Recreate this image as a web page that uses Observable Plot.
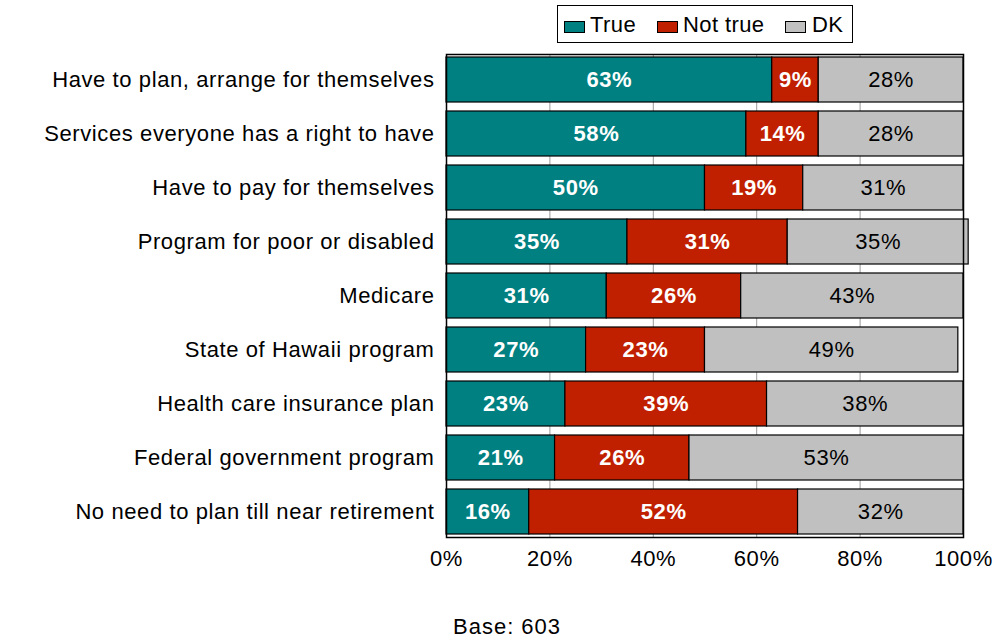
<!DOCTYPE html>
<html><head><meta charset="utf-8">
<script src="https://cdn.jsdelivr.net/npm/d3@7"></script>
<script src="https://cdn.jsdelivr.net/npm/@observablehq/plot@0.6"></script>
<style>
body{margin:0;background:#fff;font-family:"Liberation Sans",Arial,sans-serif;}
#wrap{position:relative;width:997px;height:641px;}
#legend{position:absolute;left:557px;top:5px;width:296px;height:38px;border:1.5px solid #000;box-sizing:border-box;font-size:22px;color:#000;letter-spacing:0.4px;}
#legend .sw{position:absolute;top:15px;width:21px;height:12px;border:1.5px solid #000;box-sizing:border-box;}
#legend .lb{position:absolute;top:6px;line-height:26px;}
#chart{position:absolute;left:0;top:0;}
#caption{position:absolute;left:453px;top:614px;font-size:22px;letter-spacing:1px;}
</style></head><body>
<div id="wrap">
<div id="chart"></div>
<div id="legend"></div>
<div id="caption">Base: 603</div>
</div>
<script>
const categories = [
  "Have to plan, arrange for themselves",
  "Services everyone has a right to have",
  "Have to pay for themselves",
  "Program for poor or disabled",
  "Medicare",
  "State of Hawaii program",
  "Health care insurance plan",
  "Federal government program",
  "No need to plan till near retirement"
];
const seriesNames = ["True", "Not true", "DK"];
const trueVals = [63, 58, 50, 35, 31, 27, 23, 21, 16];
const notTrueVals = [9, 14, 19, 31, 26, 23, 39, 26, 52];
const dkVals = [28, 28, 31, 35, 43, 49, 38, 53, 32];
const colors = ["#008080", "#c02000", "#c0c0c0"];
const xTicks = [0, 20, 40, 60, 80, 100];

const seriesVals = [trueVals, notTrueVals, dkVals];
const data = [];
categories.forEach((c, i) => {
  seriesNames.forEach((s, j) => data.push({cat: c, series: s, value: seriesVals[j][i]}));
});

const font = '"Liberation Sans", Arial, sans-serif';
const stackOpts = {x: "value", y: "cat", z: "series", order: null};
const chart = Plot.plot({
  width: 997,
  height: 600,
  marginLeft: 446,
  marginRight: 34,
  marginTop: 54,
  marginBottom: 63,
  style: {fontFamily: font, fontSize: "22px", color: "#000", background: "transparent", letterSpacing: "0.6px"},
  x: {domain: [0, 100], ticks: xTicks, tickFormat: d => d + "%", label: null, tickSize: 0, tickPadding: 13},
  y: {domain: categories, label: null, tickSize: 0, tickPadding: 12, paddingInner: 0.17, paddingOuter: 0.055},
  color: {domain: seriesNames, range: colors},
  marks: [
    Plot.gridX(xTicks, {stroke: "#808080", strokeOpacity: 1, strokeWidth: 0.8}),
    Plot.barX(data, Plot.stackX({...stackOpts, fill: "series", stroke: "#000", strokeWidth: 1.2})),
    Plot.text(data, Plot.filter(d => d.series !== "DK", Plot.stackX({...stackOpts, text: d => d.value + "%", fill: "#fff", fontWeight: "bold", fontSize: 22}))),
    Plot.text(data, Plot.filter(d => d.series === "DK", Plot.stackX({...stackOpts, text: d => d.value + "%", fill: "#000", fontSize: 22}))),
    Plot.frame({stroke: "#000", strokeWidth: 1.5}),
  ]
});
document.getElementById("chart").appendChild(chart);

const legend = document.getElementById("legend");
const swX = [6, 99, 227];
const lbX = [32, 125, 254];
seriesNames.forEach((s, j) => {
  const sw = document.createElement("span");
  sw.className = "sw";
  sw.style.left = swX[j] + "px";
  sw.style.background = colors[j];
  legend.appendChild(sw);
  const lb = document.createElement("span");
  lb.className = "lb";
  lb.style.left = lbX[j] + "px";
  lb.textContent = s;
  legend.appendChild(lb);
});
</script>
</body></html>
